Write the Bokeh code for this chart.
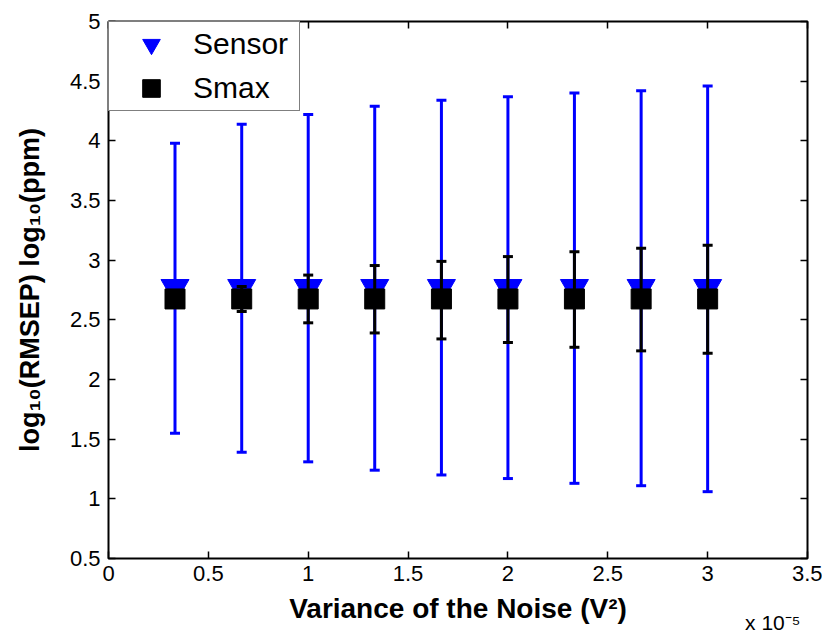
from bokeh.plotting import figure
from bokeh.models import (ColumnDataSource, Range1d, LinearAxis, FixedTicker,
                          Legend, LegendItem, Title)
from bokeh.embed import file_html
from bokeh.resources import INLINE

# ---- data (x in units of 1e-5 V^2) ----
noise_variance = [0.333, 0.667, 1.0, 1.333, 1.667, 2.0, 2.333, 2.667, 3.0]
sensor_mean = [2.77, 2.77, 2.77, 2.77, 2.77, 2.77, 2.77, 2.77, 2.77]
sensor_upper = [3.98, 4.14, 4.22, 4.29, 4.34, 4.37, 4.40, 4.42, 4.46]
sensor_lower = [1.55, 1.39, 1.31, 1.24, 1.20, 1.17, 1.13, 1.11, 1.06]
smax_mean = [2.675, 2.675, 2.675, 2.675, 2.675, 2.675, 2.675, 2.675, 2.675]
smax_upper = [2.72, 2.78, 2.875, 2.955, 2.99, 3.03, 3.07, 3.10, 3.125]
smax_lower = [2.63, 2.57, 2.475, 2.39, 2.34, 2.31, 2.27, 2.24, 2.22]

x_ticks = [0, 0.5, 1, 1.5, 2, 2.5, 3, 3.5]
x_tick_labels = ["0", "0.5", "1", "1.5", "2", "2.5", "3", "3.5"]
y_ticks = [0.5, 1, 1.5, 2, 2.5, 3, 3.5, 4, 4.5, 5]
y_tick_labels = ["0.5", "1", "1.5", "2", "2.5", "3", "3.5", "4", "4.5", "5"]

FONT = "Liberation Sans"

src_sensor = ColumnDataSource(dict(x=noise_variance, y=sensor_mean,
                                   top=sensor_upper, bottom=sensor_lower))
src_smax = ColumnDataSource(dict(x=noise_variance, y=smax_mean,
                                 top=smax_upper, bottom=smax_lower))

p = figure(width=822, height=637, output_backend="svg", toolbar_location=None,
           x_range=Range1d(0, 3.5), y_range=Range1d(0.5, 5),
           min_border_left=108, min_border_right=15, min_border_top=21,
           min_border_bottom=79)
p.xgrid.visible = False
p.ygrid.visible = False
p.outline_line_color = "black"
p.outline_line_width = 2
p.outline_line_alpha = 1

# Sensor error bars
p.segment(x0="x", y0="bottom", x1="x", y1="top", source=src_sensor,
          line_color="#0000ff", line_width=3)
p.scatter(x="x", y="top", source=src_sensor, marker="dash", size=10,
          line_color="#0000ff", line_width=3)
p.scatter(x="x", y="bottom", source=src_sensor, marker="dash", size=10,
          line_color="#0000ff", line_width=3)
r_sensor = p.scatter(x="x", y="y", source=src_sensor, marker="inverted_triangle",
                     size=28, fill_color="#0000ff", line_color="#0000ff")

# Smax error bars
p.segment(x0="x", y0="bottom", x1="x", y1="top", source=src_smax,
          line_color="black", line_width=3)
p.scatter(x="x", y="top", source=src_smax, marker="dash", size=10,
          line_color="black", line_width=3)
p.scatter(x="x", y="bottom", source=src_smax, marker="dash", size=10,
          line_color="black", line_width=3)
r_smax = p.scatter(x="x", y="y", source=src_smax, marker="square",
                   size=20, fill_color="black", line_color="black")


def style_axis(ax, show_labels=True):
    ax.axis_line_color = None
    ax.major_tick_in = 7
    ax.major_tick_out = 0
    ax.major_tick_line_width = 1.5
    ax.major_tick_line_color = "black"
    ax.minor_tick_line_color = None
    ax.major_label_text_font = FONT
    ax.major_label_text_color = "black"
    ax.axis_label_text_color = "black"
    if show_labels:
        ax.major_label_text_font_size = "22px"
    else:
        ax.major_label_text_font_size = "0px"
        ax.major_label_standoff = 0


xax = p.xaxis[0]
xax.ticker = FixedTicker(ticks=x_ticks)
xax.major_label_overrides = {t: l for t, l in zip(x_ticks, x_tick_labels)}
style_axis(xax)
xax.major_label_standoff = 7
xax.axis_label = "Variance of the Noise (V²)"
xax.axis_label_text_font = FONT
xax.axis_label_text_font_style = "bold"
xax.axis_label_text_font_size = "28px"
xax.axis_label_standoff = 9

yax = p.yaxis[0]
yax.ticker = FixedTicker(ticks=y_ticks)
yax.major_label_overrides = {t: l for t, l in zip(y_ticks, y_tick_labels)}
style_axis(yax)
yax.major_label_standoff = 8
yax.axis_label = "log₁₀(RMSEP) log₁₀(ppm)"
yax.axis_label_text_font = FONT
yax.axis_label_text_font_style = "bold"
yax.axis_label_text_font_size = "27px"
yax.axis_label_standoff = 22

top_ax = LinearAxis(ticker=FixedTicker(ticks=x_ticks))
top_ax.major_label_overrides = {t: "" for t in x_ticks}
style_axis(top_ax, show_labels=False)
p.add_layout(top_ax, "above")

right_ax = LinearAxis(ticker=FixedTicker(ticks=y_ticks))
right_ax.major_label_overrides = {t: "" for t in y_ticks}
style_axis(right_ax, show_labels=False)
p.add_layout(right_ax, "right")

# exponent annotation below the x axis, right-aligned
p.add_layout(Title(text="x 10⁻⁵", align="right", vertical_align="top",
                   offset=7, standoff=-32,
                   text_font=FONT, text_font_size="21px",
                   text_font_style="normal", text_color="black"), "below")

legend = Legend(items=[LegendItem(label="Sensor", renderers=[r_sensor]),
                       LegendItem(label="Smax", renderers=[r_smax])],
                location="top_left", margin=0, padding=0,
                glyph_width=84, glyph_height=44, spacing=0,
                label_standoff=0, label_width=106,
                label_text_font=FONT, label_text_font_size="30px",
                label_text_color="black",
                border_line_color="black", border_line_width=1.5,
                background_fill_color="white", background_fill_alpha=1)
p.add_layout(legend, "center")

open("out.html", "w").write(file_html(p, INLINE))
